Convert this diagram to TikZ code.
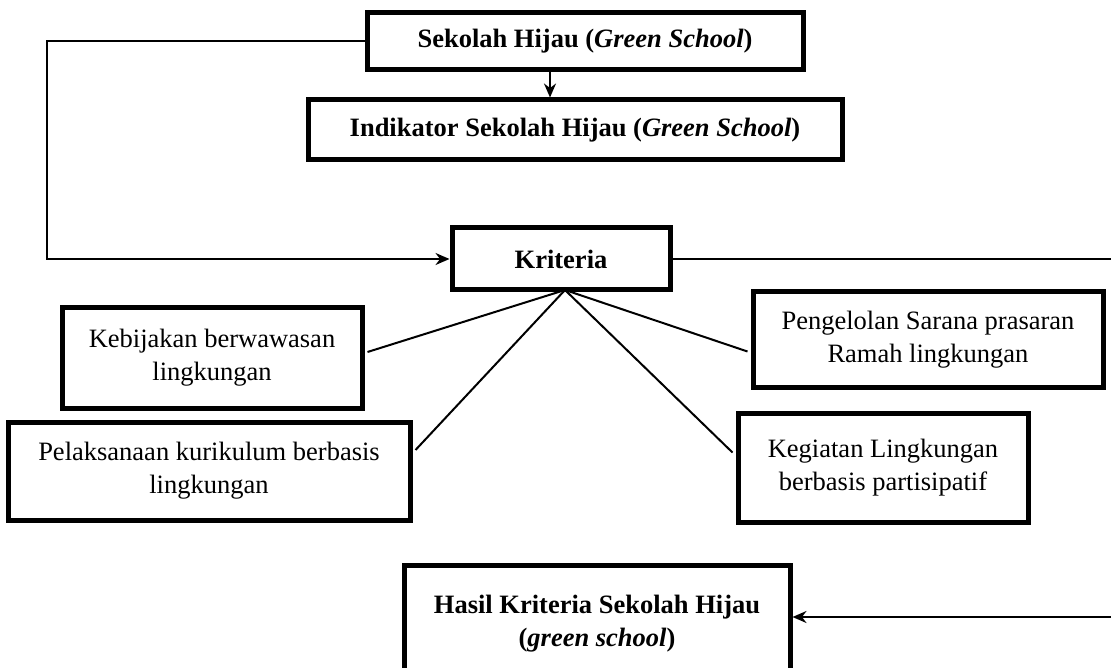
\documentclass[tikz,border=0pt]{standalone}
\usepackage{fontspec}
\setmainfont{Liberation Serif}
\usetikzlibrary{arrows.meta}
\begin{document}
\begin{tikzpicture}[x=1pt,y=-1pt,
  boxstyle/.style={draw=black, line width=5pt, fill=white, inner sep=0pt, align=center,
    font=\fontsize{26.5}{33}\selectfont},
  conn/.style={draw=black, line width=2pt},
  arr/.style={conn, -{Stealth[length=14pt,width=12pt]}}]
\clip (0,0) rectangle (1111,668);
\useasboundingbox (0,0) rectangle (1111,668);
\fill[white] (0,0) rectangle (1111,668);

\node[boxstyle, minimum width=436pt, minimum height=57pt] (s1) at (585,41.5)
  {\textbf{Sekolah Hijau (\textit{Green School})}};
\node[boxstyle, minimum width=534pt, minimum height=60pt] (ind) at (575,130)
  {\textbf{Indikator Sekolah Hijau (\textit{Green School})}};
\node[boxstyle, minimum width=218pt, minimum height=62pt] (krit) at (561,259)
  {\textbf{Kriteria}};
\node[boxstyle, minimum width=300pt, minimum height=100pt] (keb) at (212,358)
  {Kebijakan berwawasan\\lingkungan};
\node[boxstyle, minimum width=402pt, minimum height=98pt] (pel) at (209,471)
  {Pelaksanaan kurikulum berbasis\\lingkungan};
\node[boxstyle, minimum width=350pt, minimum height=95pt] (pen) at (928,339.5)
  {Pengelolan Sarana prasaran\\Ramah lingkungan};
\node[boxstyle, minimum width=290pt, minimum height=109pt] (keg) at (883,467.5)
  {Kegiatan Lingkungan\\berbasis partisipatif};
\node[boxstyle, minimum width=386pt, minimum height=118pt] (hasil) at (597,624)
  {\textbf{Hasil Kriteria Sekolah Hijau}\\\textbf{(\textit{green school})}};

\coordinate (X) at (550,0);
\coordinate (L) at (47,0);
\coordinate (A) at (1111.5,617);
\coordinate (K) at (565,290);

\draw[arr] (s1.south -| X) -- (ind.north -| X);
\draw[arr] (s1.west) -- (s1.west -| L) |- (krit.west);
\draw[arr] (krit.east) -| (A) -- (A -| hasil.east);

\draw[conn] (K) -- ([xshift=3pt,yshift=6pt]keb.east);
\draw[conn] (K) -- ([xshift=3pt,yshift=21pt]pel.east);
\draw[conn] (K) -- ([xshift=-3pt,yshift=-12pt]pen.west);
\draw[conn] (K) -- ([xshift=-3pt,yshift=15pt]keg.west);
\end{tikzpicture}
\end{document}
